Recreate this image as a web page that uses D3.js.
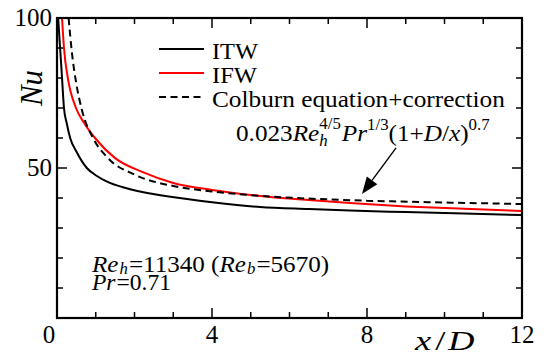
<!DOCTYPE html>
<html lang="en">
<head>
  <meta charset="UTF-8">
  <title>Nu vs x/D</title>
  <script src="https://d3js.org/d3.v7.min.js"></script>
  <style>
    html, body { margin: 0; background: #fff; }
    svg { display: block; }
  </style>
</head>
<body>
  <svg id="chart" width="544" height="360"></svg>
  <script>
    // values
    const itwX  = [0.03, 0.08, 0.13, 0.18, 0.25, 0.34, 0.5, 0.77, 1.0, 1.32, 1.7, 2.2, 2.97, 4, 5.24, 6.5, 7.56, 9, 10.5, 12];
    const itwNu = [100, 90, 80, 70, 65, 60, 55.5, 50, 47.6, 45.3, 43.6, 42, 40.3, 38.6, 37, 36.3, 35.8, 35.3, 34.8, 34.3];
    const ifwX  = [0.13, 0.18, 0.28, 0.49, 0.7, 0.98, 1.5, 2.2, 3.0, 4, 5.24, 6.5, 7.56, 9, 10.5, 12];
    const ifwNu = [100, 90, 80, 70, 65, 60, 53.3, 48.7, 45, 42.7, 40.7, 39.3, 38.3, 37.2, 36.4, 35.7];
    const colX  = [0.30, 0.38, 0.5, 0.65, 0.93, 1.3, 2, 3, 4, 5.24, 6.5, 8, 10, 12];
    const colNu = [100, 89, 78, 69, 60, 53.5, 47.8, 44, 42.2, 40.7, 39.8, 39.1, 38.5, 38.0];

    const seriesNames = ["ITW", "IFW", "Colburn equation+correction"];
    const xMajor = [0, 4, 8, 12];
    const yMajor = [50, 100];
    const arrowFrom = [8.75, 56.7];
    const arrowTo = [7.87, 41.3];

    const serif = "'Liberation Serif', 'Times New Roman', serif";
    const svg = d3.select("#chart").attr("font-family", serif);
    const mLeft = 57, mRight = 522, mTop = 18, mBottom = 318;

    const x = d3.scaleLinear().domain([0, 12]).range([mLeft, mRight]);
    const y = d3.scaleLinear().domain([0, 100]).range([mBottom, mTop]);

    svg.append("clipPath").attr("id", "plot")
      .append("rect")
      .attr("x", mLeft).attr("y", mTop)
      .attr("width", mRight - mLeft).attr("height", mBottom - mTop);

    // width of a bit of text
    function measure(q) {
      const t = svg.append("text")
        .style("font-size", (q.size || 24) + "px")
        .style("font-style", q.it ? "italic" : "normal")
        .text(q.t);
      const w = t.node().getComputedTextLength();
      t.remove();
      return w;
    }

    // rich text in one <text>: tspans with baseline shifts; a "stack" puts sup over sub
    function rich(g, x0, y0, pieces, targetW) {
      const t = g.append("text").style("font-size", "24px");
      let base = 0, carry = 0;
      function add(q, dx) {
        const dy = (q.dy || 0) - base;
        base = q.dy || 0;
        t.append("tspan")
          .attr("dy", dy)
          .attr("dx", dx)
          .style("font-size", (q.size || 24) + "px")
          .style("font-style", q.it ? "italic" : "normal")
          .text(q.t);
      }
      pieces.forEach(p => {
        if (p.stack) {
          const wa = measure(p.stack[0]), wb = measure(p.stack[1]);
          add(p.stack[0], carry);
          add(p.stack[1], -wa);
          carry = Math.max(0, wa - wb) + (p.dx || 0);
        } else {
          add(p, carry + (p.dx || 0));
          carry = 0;
        }
      });
      const w = t.node().getComputedTextLength();
      const sx = targetW ? targetW / w : 1;
      t.attr("transform", `translate(${x0},${y0}) scale(${sx},1)`);
      return t;
    }

    // lines
    const line = d3.line()
      .x(d => x(d[0]))
      .y(d => y(d[1]))
      .curve(d3.curveMonotoneX);

    const lines = svg.append("g").attr("clip-path", "url(#plot)");
    const series = [
      { xs: itwX, ys: itwNu, color: "#000", dash: null },
      { xs: ifwX, ys: ifwNu, color: "#ff0000", dash: null },
      { xs: colX, ys: colNu, color: "#000", dash: "7,4.5" }
    ];
    series.forEach(s => {
      lines.append("path")
        .datum(d3.zip(s.xs, s.ys))
        .attr("fill", "none")
        .attr("stroke", s.color)
        .attr("stroke-width", 2)
        .attr("stroke-dasharray", s.dash)
        .attr("d", line);
    });

    // ticks (inward, on all four sides)
    const xMinor = d3.range(0, 13, 1);
    const yMinor = d3.range(0, 101, 10);
    const tickG = svg.append("g").attr("stroke", "#000").attr("stroke-width", 1.5);
    xMinor.forEach(v => {
      const len = xMajor.includes(v) ? 10 : 6;
      tickG.append("line").attr("x1", x(v)).attr("x2", x(v)).attr("y1", mBottom).attr("y2", mBottom - len);
      tickG.append("line").attr("x1", x(v)).attr("x2", x(v)).attr("y1", mTop).attr("y2", mTop + len);
    });
    yMinor.forEach(v => {
      const len = yMajor.includes(v) ? 10 : 6;
      tickG.append("line").attr("y1", y(v)).attr("y2", y(v)).attr("x1", mLeft).attr("x2", mLeft + len);
      tickG.append("line").attr("y1", y(v)).attr("y2", y(v)).attr("x1", mRight).attr("x2", mRight - len);
    });

    // frame
    svg.append("rect")
      .attr("x", mLeft).attr("y", mTop)
      .attr("width", mRight - mLeft).attr("height", mBottom - mTop)
      .attr("fill", "none").attr("stroke", "#000").attr("stroke-width", 2.2);

    // tick labels
    xMajor.forEach(v => {
      svg.append("text")
        .attr("x", v === 0 ? x(v) - 8 : x(v))
        .attr("y", 343)
        .attr("text-anchor", "middle")
        .style("font-size", "25px")
        .text(v);
    });
    yMajor.forEach(v => {
      svg.append("text")
        .attr("x", 52)
        .attr("y", y(v) + 8)
        .attr("text-anchor", "end")
        .style("font-size", "25px")
        .text(v);
    });

    // axis titles
    rich(svg, 415, 350, [
      { t: "x", it: true, size: 28 },
      { t: "/", size: 28, dx: 3 },
      { t: "D", it: true, size: 28, dx: 2 }
    ], 53);
    svg.append("text")
      .attr("transform", "translate(42,88) rotate(-90)")
      .attr("text-anchor", "middle")
      .style("font-size", "31px")
      .style("font-style", "italic")
      .text("Nu");

    // legend
    const legY = [49, 73, 97];
    const legW = [46, 45, 293];
    seriesNames.forEach((name, i) => {
      const s = series[i];
      svg.append("line")
        .attr("x1", 159).attr("x2", 204)
        .attr("y1", legY[i]).attr("y2", legY[i])
        .attr("stroke", s.color).attr("stroke-width", 2)
        .attr("stroke-dasharray", s.dash);
      rich(svg, 212, legY[i] + 9.5, [{ t: name }], legW[i]);
    });

    // formula annotation
    rich(svg, 236, 141, [
      { t: "0.023" },
      { t: "Re", it: true },
      { stack: [{ t: "4/5", size: 16, dy: -12 }, { t: "h", it: true, size: 16, dy: 5 }], dx: 1 },
      { t: "Pr", it: true },
      { t: "1/3", size: 16, dy: -11 },
      { t: "(1+" },
      { t: "D", it: true },
      { t: "/" },
      { t: "x", it: true },
      { t: ")" },
      { t: "0.7", size: 16, dy: -11 }
    ], 261);

    // arrow
    const ax0 = x(arrowFrom[0]), ay0 = y(arrowFrom[1]);
    const ax1 = x(arrowTo[0]), ay1 = y(arrowTo[1]);
    const ang = Math.atan2(ay1 - ay0, ax1 - ax0);
    const hl = 17, hw = 6.5;
    const bx = ax1 - hl * Math.cos(ang), by = ay1 - hl * Math.sin(ang);
    svg.append("line")
      .attr("x1", ax0).attr("y1", ay0).attr("x2", bx).attr("y2", by)
      .attr("stroke", "#000").attr("stroke-width", 1.4);
    svg.append("path")
      .attr("d", `M${ax1},${ay1}L${bx + hw * Math.sin(ang)},${by - hw * Math.cos(ang)}L${bx - hw * Math.sin(ang)},${by + hw * Math.cos(ang)}Z`)
      .attr("fill", "#000");

    // conditions
    rich(svg, 92, 272, [
      { t: "Re", it: true },
      { t: "h", it: true, size: 16, dy: 2, dx: 1 },
      { t: "=11340 (", dx: 1 },
      { t: "Re", it: true },
      { t: "b", it: true, size: 16, dy: 2, dx: 1 },
      { t: "=5670)", dx: 1 }
    ], 233);
    rich(svg, 92, 290, [
      { t: "Pr", it: true },
      { t: "=0.71", dx: 1 }
    ], 78);
  </script>
</body>
</html>
